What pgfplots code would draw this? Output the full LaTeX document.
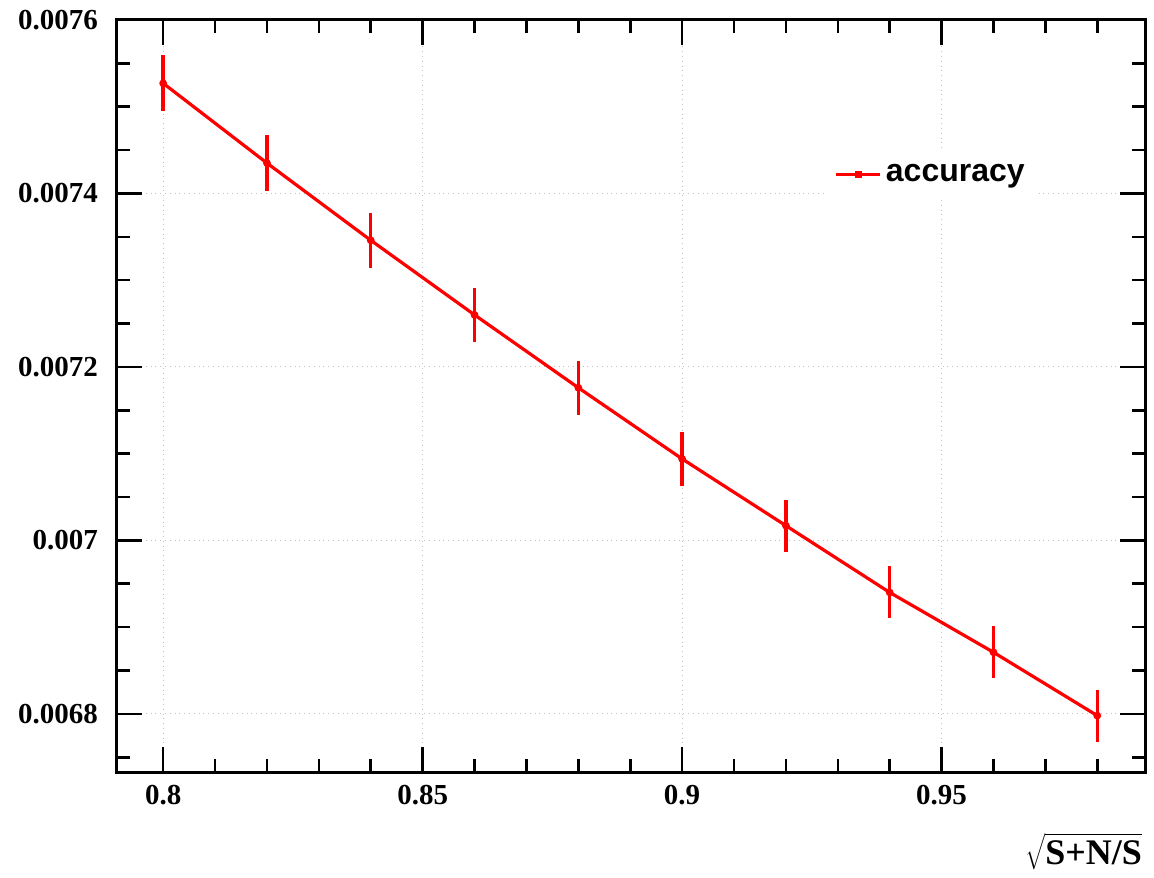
\documentclass[border=0pt]{standalone}
\usepackage{pgfplots}
\pgfplotsset{compat=1.18}
\usepackage{fontspec}
\setmainfont{Liberation Serif}
\newfontfamily\helv{Liberation Sans}
\begin{document}
\begin{tikzpicture}
\begin{axis}[
  at={(0,0)}, anchor=south west,
  scale only axis, width=514pt, height=376pt,
  xmin=0.7911, xmax=0.9892,
  ymin=0.006733, ymax=0.0076,
  axis line style={line width=1.5pt},
  xtick={0.8,0.85,0.9,0.95},
  xticklabels={0.8,0.85,0.9,0.95},
  ytick={0.0068,0.007,0.0072,0.0074,0.0076},
  yticklabels={0.0068,0.007,0.0072,0.0074,0.0076},
  minor xtick={0.79,0.81,0.82,0.83,0.84,0.86,0.87,0.88,0.89,0.91,0.92,0.93,0.94,0.96,0.97,0.98},
  minor ytick={0.00675,0.00685,0.0069,0.00695,0.00705,0.0071,0.00715,0.00725,0.0073,0.00735,0.00745,0.0075,0.00755},
  tick align=inside, tick pos=both,
  major tick length=12.5pt, minor tick length=6.5pt,
  every tick/.style={line width=1.3pt, black},
  xmajorgrids, ymajorgrids,
  major grid style={gray!50, dotted, line width=0.5pt},
  tick label style={font=\fontsize{14.5}{14.5}\selectfont\bfseries},
  yticklabel style={xshift=-6pt},
  xticklabel style={yshift=-3pt},
  scaled y ticks=false,
  xlabel={$\sqrt{\mbox{\fontsize{18}{18}\selectfont\bfseries S+N/S}}$},
  xlabel style={at={(rel axis cs:1,0)}, anchor=north east, yshift=-27pt, xshift=2pt},
  legend style={at={(rel axis cs:0.69,0.83)}, anchor=north west, draw=none, fill=white,
    font=\helv\fontsize{16}{16}\selectfont\bfseries, inner xsep=4pt, inner ysep=6pt},
  legend cell align=left,
  legend image code/.code={
    \draw[red, line width=1.6pt] (0pt,0pt) -- (22pt,0pt);
    \fill[red] (10pt,-1pt) rectangle (12pt,1pt);
  },
]
\addplot[red, line width=1.6pt, mark=*, mark size=1.1pt,
  error bars/.cd, y dir=both, y explicit, error bar style={line width=1.7pt, red},
  error mark=none]
  coordinates {
  (0.80,0.007527) +- (0,0.0000325)
  (0.82,0.007435) +- (0,0.0000325)
  (0.84,0.007346) +- (0,0.0000315)
  (0.86,0.007260) +- (0,0.0000315)
  (0.88,0.007176) +- (0,0.000031)
  (0.90,0.007094) +- (0,0.000031)
  (0.92,0.007017) +- (0,0.000030)
  (0.94,0.006940) +- (0,0.000030)
  (0.96,0.006871) +- (0,0.000030)
  (0.98,0.006798) +- (0,0.000030)
  };
\addlegendentry{accuracy}
\end{axis}
\pgfresetboundingbox
\path[use as bounding box] (-58.5pt,-52.5pt) rectangle (518.5pt,386pt);
\end{tikzpicture}
\end{document}
